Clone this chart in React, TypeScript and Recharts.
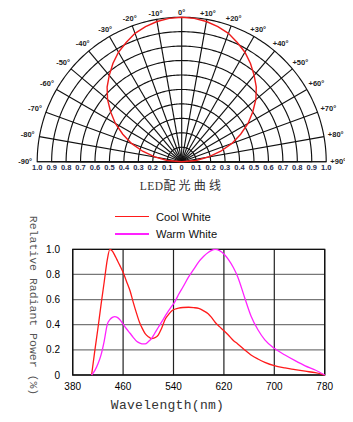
import {
  RadarChart,
  Radar,
  PolarGrid,
  PolarAngleAxis,
  PolarRadiusAxis,
  LineChart,
  Line,
  XAxis,
  YAxis,
  CartesianGrid,
  ReferenceArea,
  Legend,
  Label,
} from "recharts";

// polar radiation pattern (degrees off-axis -> relative intensity)
const beamAngles = [
  -90, -85, -80, -75, -70, -65, -60, -55, -50, -45, -40, -35, -30, -25, -20, -15, -10, -5,
  0, 5, 10, 15, 20, 25, 30, 35, 40, 45, 50, 55, 60, 65, 70, 75, 80, 85, 90,
];
const beamIntensity = [
  0, 0.1, 0.19, 0.28, 0.37, 0.45, 0.53, 0.6, 0.67, 0.73, 0.78, 0.83, 0.875, 0.91, 0.945, 0.967, 0.985, 0.996,
  1.0, 0.996, 0.985, 0.967, 0.945, 0.91, 0.875, 0.83, 0.78, 0.73, 0.67, 0.6, 0.53, 0.45, 0.37, 0.28, 0.19, 0.1, 0,
];
// intensity scale along the base line, left and right of centre
const baseTicks = [
  -1, -0.9, -0.8, -0.7, -0.6, -0.5, -0.4, -0.3, -0.2, -0.1, 0, 0.1, 0.2, 0.3, 0.4, 0.5, 0.6, 0.7, 0.8, 0.9, 1,
];

// spectrum
const wavelengths = [
  410, 415, 420, 425, 430, 435, 439, 443, 447, 450, 455, 460, 465, 471, 476, 482, 486, 490, 495, 500,
  505, 510, 516, 521, 527, 532, 537, 543, 548, 555, 564, 572, 580, 588, 595, 600, 606, 613, 620, 627,
  635, 642, 653, 663, 674, 685, 700, 717, 733, 749, 765, 780,
];
const coolWhite = [
  0, 0.19, 0.37, 0.56, 0.74, 0.92, 1.0, 0.985, 0.95, 0.92, 0.87, 0.817, 0.75, 0.67, 0.58, 0.48, 0.42, 0.375, 0.33, 0.305,
  0.29, 0.295, 0.32, 0.37, 0.445, 0.48, 0.51, 0.525, 0.532, 0.537, 0.539, 0.536, 0.53, 0.51, 0.487, 0.46, 0.42, 0.385, 0.352, 0.318,
  0.275, 0.247, 0.199, 0.159, 0.127, 0.101, 0.074, 0.056, 0.043, 0.03, 0.018, 0,
];
const warmWhite = [
  0, 0.035, 0.087, 0.16, 0.27, 0.405, 0.44, 0.458, 0.464, 0.46, 0.44, 0.405, 0.37, 0.332, 0.3, 0.266, 0.255, 0.248, 0.247, 0.265,
  0.29, 0.33, 0.38, 0.42, 0.47, 0.51, 0.545, 0.59, 0.64, 0.7, 0.78, 0.84, 0.9, 0.945, 0.975, 0.99, 1.0, 0.99, 0.963, 0.92,
  0.855, 0.78, 0.615, 0.47, 0.36, 0.28, 0.212, 0.159, 0.114, 0.073, 0.04, 0,
];
const xTicks = [380, 460, 540, 620, 700, 780];
const yTicks = [0, 0.2, 0.4, 0.6, 0.8, 1.0];

const polarData = beamAngles.map((angle, i) => ({ angle, r: beamIntensity[i] }));
const baseData = baseTicks.map((v) => ({ v }));
const spectrumData = wavelengths.map((nm, i) => ({ nm, cool: coolWhite[i], warm: warmWhite[i] }));

const CX = 181.7;
const CY = 161.7;
const R = 144.5;
const sans = "'Liberation Sans', Arial, sans-serif";
const mono = "'Liberation Mono', 'Courier New', monospace";

const ringRadii = Array.from({ length: 10 }, (_, i) => (R * (i + 1)) / 10);
const spokeAngles = Array.from({ length: 19 }, (_, i) => i * 10);
const arcAngles = Array.from({ length: 181 }, (_, i) => i);

function AngleTick(props: any) {
  const v = props.payload.value;
  const a = (props.payload.coordinate * Math.PI) / 180;
  const r = R + 5 + 7 * Math.abs(Math.cos(a));
  const label = v === 0 ? "0°" : v > 0 ? `+${v}°` : `${v}°`;
  return (
    <text
      x={CX + r * Math.cos(a)}
      y={CY - r * Math.sin(a)}
      textAnchor="middle"
      dominantBaseline="central"
      fontSize={7.5}
      fontWeight="bold"
      fontFamily={sans}
      fill="#222"
    >
      {label}
    </text>
  );
}

function SpectrumLegend({ payload }: any) {
  return (
    <div>
      {(payload || []).map((item: any) => (
        <div key={item.value} style={{ display: "flex", alignItems: "center", height: 17.3 }}>
          <div style={{ width: 34, height: 1.5, background: item.color, marginRight: 7 }} />
          <span style={{ fontFamily: sans, fontSize: 11.2, color: "#111" }}>{item.value}</span>
        </div>
      ))}
    </div>
  );
}

export default function App() {
  return (
    <div style={{ position: "relative", width: 353, height: 422, margin: -8, background: "#fff" }}>
      <div style={{ position: "absolute", left: 0, top: 0 }}>
        <RadarChart
          width={353}
          height={178}
          data={polarData}
          cx={CX}
          cy={CY}
          outerRadius={R}
          innerRadius={0}
          startAngle={180}
          endAngle={0}
          margin={{ top: 0, right: 0, bottom: 0, left: 0 }}
        >
          <PolarGrid
            gridType="polygon"
            polarAngles={arcAngles}
            polarRadius={ringRadii}
            radialLines={false}
            stroke="#111"
            strokeWidth={1.15}
          />
          <PolarGrid
            gridType="polygon"
            polarAngles={spokeAngles}
            polarRadius={[]}
            stroke="#111"
            strokeWidth={1.15}
          />
          <PolarAngleAxis
            type="number"
            dataKey="angle"
            domain={[-90, 90]}
            tickCount={19}
            axisLine={false}
            tickLine={false}
            tick={AngleTick}
          />
          <PolarRadiusAxis angle={0} domain={[0, 1]} axisLine={false} tick={false} />
          <Radar
            dataKey="r"
            stroke="#ee1c1c"
            strokeWidth={1.4}
            fill="none"
            fillOpacity={0}
            isAnimationActive={false}
          />
        </RadarChart>
      </div>

      {/* intensity scale under the polar base line */}
      <div style={{ position: "absolute", left: 0, top: 0 }}>
        <LineChart
          width={353}
          height={178}
          data={baseData}
          margin={{ top: 0, right: 353 - (CX + R), bottom: 178 - CY - 16, left: CX - R }}
        >
          <XAxis
            dataKey="v"
            type="number"
            domain={[-1, 1]}
            ticks={baseTicks}
            interval={0}
            height={16}
            axisLine={false}
            tickLine={false}
            tickSize={0}
            tickMargin={3}
            tickFormatter={(v: number) => (Math.abs(v) < 1e-6 ? "0" : Math.abs(v).toFixed(1))}
            tick={{ fontSize: 7.5, fontWeight: "bold", fontFamily: sans, fill: "#1f2d4f" }}
          />
          <YAxis hide domain={[0, 1]} />
        </LineChart>
      </div>

      <div
        style={{
          position: "absolute",
          left: 0,
          width: 364,
          top: 177,
          textAlign: "center",
          color: "#333",
          whiteSpace: "nowrap",
          lineHeight: "16px",
        }}
      >
        <span style={{ fontFamily: "'Liberation Serif', serif", fontSize: 11.5, letterSpacing: 0.4 }}>LED</span>
        <span style={{ fontFamily: "'Noto Sans CJK SC', sans-serif", fontSize: 12, letterSpacing: 3.2 }}>
          配光曲线
        </span>
      </div>

      <div style={{ position: "absolute", left: 0, top: 200 }}>
        <LineChart
          width={353}
          height={222}
          data={spectrumData}
          margin={{ top: 49.3, right: 28.3, bottom: 17, left: 12.7 }}
        >
          <CartesianGrid stroke="#777" strokeWidth={1.3} vertical={false} />
          <CartesianGrid stroke="#222" strokeWidth={1.2} horizontal={false} />
          <XAxis
            dataKey="nm"
            type="number"
            domain={[380, 780]}
            ticks={xTicks}
            axisLine={false}
            tickLine={false}
            tickSize={0}
            tickMargin={8}
            tick={{ fontSize: 10, fontFamily: sans, fill: "#000" }}
            height={30}
          >
            <Label
              content={() => (
                <text
                  x={167.5}
                  y={205.7}
                  textAnchor="middle"
                  dominantBaseline="central"
                  fontFamily={mono}
                  fontSize={13}
                  letterSpacing={0.3}
                  fill="#333"
                >
                  Wavelength(nm)
                </text>
              )}
            />
          </XAxis>
          <YAxis
            type="number"
            domain={[0, 1]}
            ticks={yTicks}
            width={60}
            axisLine={false}
            tickLine={false}
            tickSize={6}
            tickMargin={6.7}
            tickFormatter={(v: number) => (v === 0 ? "0" : v.toFixed(1))}
            tick={{ fontSize: 10, fontFamily: sans, fill: "#000" }}
          >
            <Label
              content={() => (
                <text
                  x={33.3}
                  y={105.5}
                  transform="rotate(90 33.3 105.5)"
                  textAnchor="middle"
                  dominantBaseline="central"
                  fontFamily={mono}
                  fontSize={11.5}
                  fill="#555"
                >
                  Relative Radiant Power (%)
                </text>
              )}
            />
          </YAxis>
          <ReferenceArea
            x1={380}
            x2={780}
            y1={0}
            y2={1}
            fill="none"
            fillOpacity={0}
            stroke="#111"
            strokeWidth={1.3}
            ifOverflow="visible"
          />
          <Legend
            layout="vertical"
            verticalAlign="middle"
            align="center"
            wrapperStyle={{ top: 8, left: 115, width: 120, height: 36 }}
            content={SpectrumLegend}
          />
          <Line
            dataKey="cool"
            name="Cool White"
            type="monotone"
            stroke="#ff1a1a"
            strokeWidth={1.3}
            dot={false}
            isAnimationActive={false}
          />
          <Line
            dataKey="warm"
            name="Warm White"
            type="monotone"
            stroke="#ff22ff"
            strokeWidth={1.3}
            dot={false}
            isAnimationActive={false}
          />
        </LineChart>
      </div>
    </div>
  );
}
